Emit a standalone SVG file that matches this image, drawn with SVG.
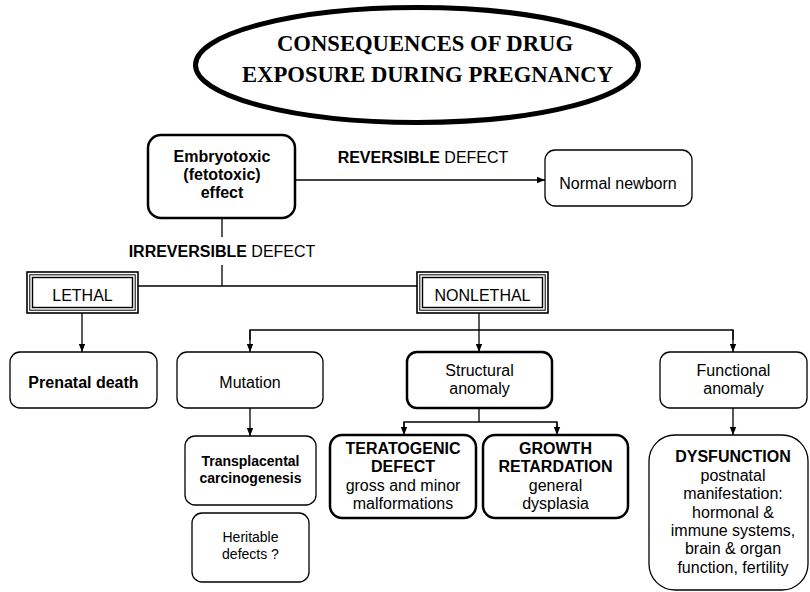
<svg xmlns="http://www.w3.org/2000/svg" width="810" height="592" viewBox="0 0 810 592">
<defs>
<marker id="ah" markerWidth="8" markerHeight="8" refX="8" refY="4" orient="auto" markerUnits="userSpaceOnUse">
<path d="M0,0.8 L8,4 L0,7.2 Z" fill="#000"/>
</marker>
<style>
.t{font-family:"Liberation Sans",Arial,sans-serif;font-size:16px;fill:#000;text-anchor:middle}
.b{font-weight:bold}
.s14{font-size:14px}
.ttl{font-family:"Liberation Serif","Times New Roman",serif;font-weight:bold;font-size:24px;text-anchor:middle;fill:#000}
.box{fill:#fff;stroke:#000;stroke-width:1.3}
.bold{fill:#fff;stroke:#000;stroke-width:2.5}
.ln{fill:none;stroke:#000;stroke-width:1.3}
</style>
</defs>
<rect width="810" height="592" fill="#fff"/>

<g id="title">
<ellipse cx="417" cy="65" rx="221.5" ry="57.5" fill="#fff" stroke="#000" stroke-width="5"/>
<text class="ttl" x="425" y="51" textLength="296" lengthAdjust="spacingAndGlyphs">CONSEQUENCES OF DRUG</text>
<text class="ttl" x="427.5" y="82" textLength="371" lengthAdjust="spacingAndGlyphs">EXPOSURE DURING PREGNANCY</text>
</g>

<g id="connectors">
<line class="ln" x1="295" y1="180" x2="545" y2="180" marker-end="url(#ah)"/>
<line class="ln" x1="222" y1="218" x2="222" y2="237"/>
<line class="ln" x1="222" y1="265" x2="222" y2="286"/>
<line class="ln" x1="138" y1="286" x2="417" y2="286"/>
<line class="ln" x1="82" y1="313" x2="82" y2="352" marker-end="url(#ah)"/>
<line class="ln" x1="479" y1="313" x2="479" y2="352" marker-end="url(#ah)"/>
<polyline class="ln" points="250,340 250,330 733,330 733,340"/>
<line class="ln" x1="250" y1="330" x2="250" y2="352" marker-end="url(#ah)"/>
<line class="ln" x1="733" y1="330" x2="733" y2="352" marker-end="url(#ah)"/>
<line class="ln" x1="250" y1="408" x2="250" y2="436" marker-end="url(#ah)"/>
<line class="ln" x1="479" y1="408" x2="479" y2="422"/>
<polyline class="ln" points="404,428 404,422 557,422 557,428"/>
<line class="ln" x1="404" y1="422" x2="404" y2="435" marker-end="url(#ah)"/>
<line class="ln" x1="557" y1="422" x2="557" y2="435" marker-end="url(#ah)"/>
<line class="ln" x1="733" y1="408" x2="733" y2="435" marker-end="url(#ah)"/>
<text class="t" x="423" y="163"><tspan class="b">REVERSIBLE</tspan> DEFECT</text>
<text class="t" x="222" y="257"><tspan class="b">IRREVERSIBLE</tspan> DEFECT</text>
</g>

<g id="embryotoxic">
<rect class="bold" x="148" y="135" width="147" height="83" rx="13"/>
<text class="t b" x="222" y="162">Embryotoxic</text>
<text class="t b" x="222" y="180">(fetotoxic)</text>
<text class="t b" x="222" y="198">effect</text>
</g>

<g id="normal">
<rect class="box" x="545" y="150" width="147" height="56" rx="10"/>
<text class="t" x="618" y="189">Normal newborn</text>
</g>

<g id="lethal">
<rect x="27" y="272" width="111" height="41" fill="#fff" stroke="#000" stroke-width="1.6"/>
<rect x="29.8" y="274.8" width="105.4" height="35.4" fill="none" stroke="#000" stroke-width="1"/>
<rect x="32.5" y="277.5" width="100" height="30" fill="none" stroke="#000" stroke-width="1.4"/>
<text class="t" x="82.5" y="301">LETHAL</text>
</g>

<g id="nonlethal">
<rect x="417" y="272" width="131" height="41" fill="#fff" stroke="#000" stroke-width="1.6"/>
<rect x="419.8" y="274.8" width="125.4" height="35.4" fill="none" stroke="#000" stroke-width="1"/>
<rect x="422.5" y="277.5" width="120" height="30" fill="none" stroke="#000" stroke-width="1.4"/>
<text class="t" x="482.5" y="301">NONLETHAL</text>
</g>

<g id="prenatal">
<rect class="box" x="10" y="352" width="147" height="56" rx="10"/>
<text class="t b" x="83.5" y="388">Prenatal death</text>
</g>

<g id="mutation">
<rect class="box" x="177" y="352" width="146" height="56" rx="10"/>
<text class="t" x="250" y="388">Mutation</text>
</g>

<g id="structural">
<rect class="bold" x="407" y="352" width="145" height="56" rx="10"/>
<text class="t" x="479.5" y="376">Structural</text>
<text class="t" x="479.5" y="394">anomaly</text>
</g>

<g id="functional">
<rect class="box" x="660" y="352" width="147" height="56" rx="10"/>
<text class="t" x="733.5" y="376">Functional</text>
<text class="t" x="733.5" y="394">anomaly</text>
</g>

<g id="transplacental">
<rect class="box" x="185" y="436" width="131" height="69" rx="10"/>
<text class="t b s14" x="250.5" y="466">Transplacental</text>
<text class="t b s14" x="250.5" y="483">carcinogenesis</text>
</g>

<g id="heritable">
<rect class="box" x="192" y="513" width="117" height="69" rx="10"/>
<text class="t s14" x="250.5" y="542">Heritable</text>
<text class="t s14" x="250.5" y="559">defects ?</text>
</g>

<g id="teratogenic">
<rect class="bold" x="330" y="435" width="146" height="83" rx="12"/>
<text class="t b" x="403" y="454">TERATOGENIC</text>
<text class="t b" x="403" y="472">DEFECT</text>
<text class="t" x="403" y="491">gross and minor</text>
<text class="t" x="403" y="509">malformations</text>
</g>

<g id="growth">
<rect class="bold" x="483" y="435" width="145" height="83" rx="12"/>
<text class="t b" x="555.5" y="454">GROWTH</text>
<text class="t b" x="555.5" y="472">RETARDATION</text>
<text class="t" x="555.5" y="491">general</text>
<text class="t" x="555.5" y="509">dysplasia</text>
</g>

<g id="dysfunction">
<rect class="box" x="649" y="435" width="159" height="155" rx="26"/>
<text class="t b" x="733" y="462">DYSFUNCTION</text>
<text class="t" x="733" y="481">postnatal</text>
<text class="t" x="733" y="499">manifestation:</text>
<text class="t" x="733" y="518">hormonal &amp;</text>
<text class="t" x="733" y="536">immune systems,</text>
<text class="t" x="733" y="554">brain &amp; organ</text>
<text class="t" x="733" y="573">function, fertility</text>
</g>
</svg>
